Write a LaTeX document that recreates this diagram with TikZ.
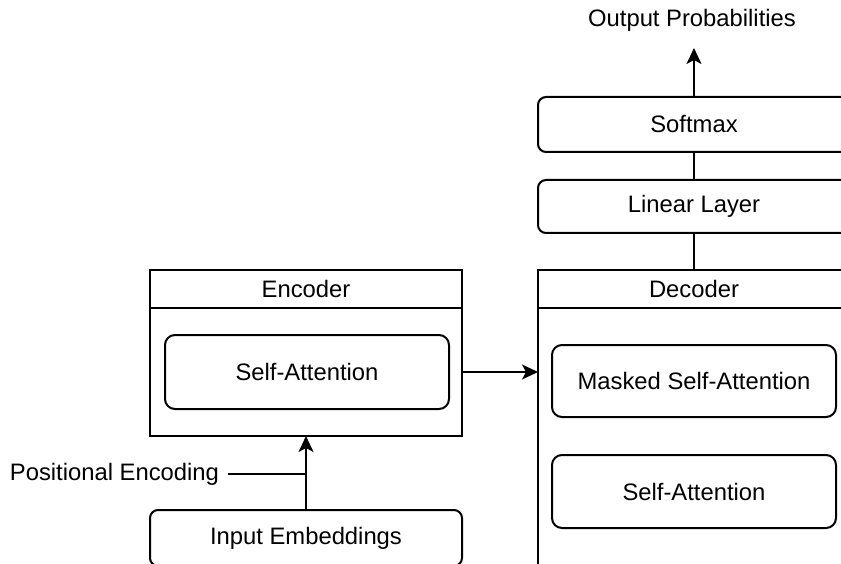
\documentclass[tikz,border=0pt]{standalone}
\usepackage{fontspec}
\setmainfont{Liberation Sans}
\usetikzlibrary{arrows.meta}
\begin{document}
\begin{tikzpicture}[x=1pt, y=-1pt, line width=2pt,
  every node/.style={font=\fontsize{23.8}{28}\selectfont, inner sep=0pt, outer sep=0pt},
  frame/.style 2 args={draw, rectangle, minimum width=#1, minimum height=#2},
  block/.style 2 args={draw, rectangle, rounded corners=10pt, minimum width=#1, minimum height=#2},
  arr/.style={-{Stealth[length=16pt, width=15pt, inset=4pt]}}]
  \path[use as bounding box, clip] (0,0) rectangle (841,564);

  % encoder container
  \node[frame={312pt}{38pt}] (enchead) at (306,289) {Encoder};
  \node[frame={312pt}{128pt}] (encbody) at (306,372) {};
  \node[block={284pt}{74pt}] (esa) at (307,372) {Self-Attention};

  % encoder input
  \node[block={312pt}{56pt}, rounded corners=8pt] (inemb) at (306,538) {Input Embeddings};
  \node[anchor=east] (pe) at (219,474) {Positional Encoding};

  % decoder container
  \node[frame={312pt}{38pt}] (dechead) at (694,289) {Decoder};
  \node[frame={312pt}{300pt}] (decbody) at (694,458) {};
  \node[block={284pt}{72pt}] (msa) at (694,381) {Masked Self-Attention};
  \node[block={284pt}{73pt}] (dsa) at (694,491.5) {Self-Attention};

  % output head
  \node[block={312pt}{53pt}, rounded corners=8pt] (lin) at (694,206.5) {Linear Layer};
  \node[block={312pt}{55pt}, rounded corners=8pt] (soft) at (694,124.5) {Softmax};
  \node (out) at (692,20) {Output Probabilities};
  \coordinate (outtip) at (694,48);

  % connectors
  \draw[arr] (inemb.north) -- (encbody.south);
  \draw (pe.east) ++(9,0) -- (pe.east -| inemb.north);
  \draw[arr] (encbody.east |- esa.center) -- (decbody.west |- esa.center);
  \draw (lin.south) -- (dechead.north);
  \draw (soft.south) -- (lin.north);
  \draw[arr] (soft.north) -- (outtip);
\end{tikzpicture}
\end{document}
